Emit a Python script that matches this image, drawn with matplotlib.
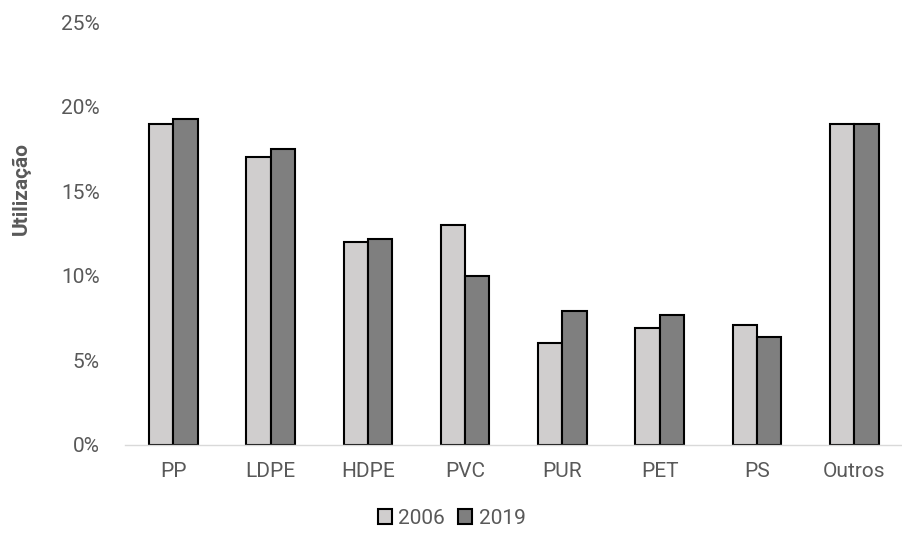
import numpy as np
import matplotlib.pyplot as plt
from matplotlib.ticker import PercentFormatter

categories = ["PP", "LDPE", "HDPE", "PVC", "PUR", "PET", "PS", "Outros"]
values_2006 = [19.0, 17.0, 12.0, 13.0, 6.0, 6.9, 7.1, 19.0]
values_2019 = [19.3, 17.5, 12.2, 10.0, 7.9, 7.7, 6.4, 19.0]
series_labels = ["2006", "2019"]

plt.rcParams['font.family'] = ['Roboto', 'DejaVu Sans']
text_color = '#595959'

fig = plt.figure(figsize=(9.03, 5.40), dpi=100)
ax = fig.add_axes([0.138, 0.176, 0.862, 0.783])

x = np.arange(len(categories))
w = 0.25
ax.bar(x - w / 2, values_2006, w, color='#d0cece', edgecolor='black', linewidth=1.5, label=series_labels[0])
ax.bar(x + w / 2, values_2019, w, color='#7f7f7f', edgecolor='black', linewidth=1.5, label=series_labels[1])

ax.set_xlim(-0.5, len(categories) - 0.5)
ax.set_ylim(0, 25)
ax.set_yticks(np.arange(0, 26, 5))
ax.yaxis.set_major_formatter(PercentFormatter(decimals=0))
ax.set_xticks(x)
ax.set_xticklabels(categories, fontsize=15, color=text_color)
ax.tick_params(axis='y', labelsize=15, labelcolor=text_color, length=0, pad=18)
ax.tick_params(axis='x', length=0, pad=12)

for s in ['top', 'right', 'left']:
    ax.spines[s].set_visible(False)
ax.spines['bottom'].set_color('#d9d9d9')
ax.spines['bottom'].set_linewidth(1)

# rótulo do eixo y fica acima do centro, como no original
ax.set_ylabel("Utilização", fontsize=15, fontweight='bold', color=text_color)
ax.yaxis.set_label_coords(-0.121, 0.607)

fig.legend(loc='center', bbox_to_anchor=(0.5, 0.04), ncol=2, frameon=False,
           fontsize=15, labelcolor=text_color, handlelength=0.7, handleheight=0.7,
           handletextpad=0.3, columnspacing=0.6)

fig.savefig("out.png", dpi=100)
